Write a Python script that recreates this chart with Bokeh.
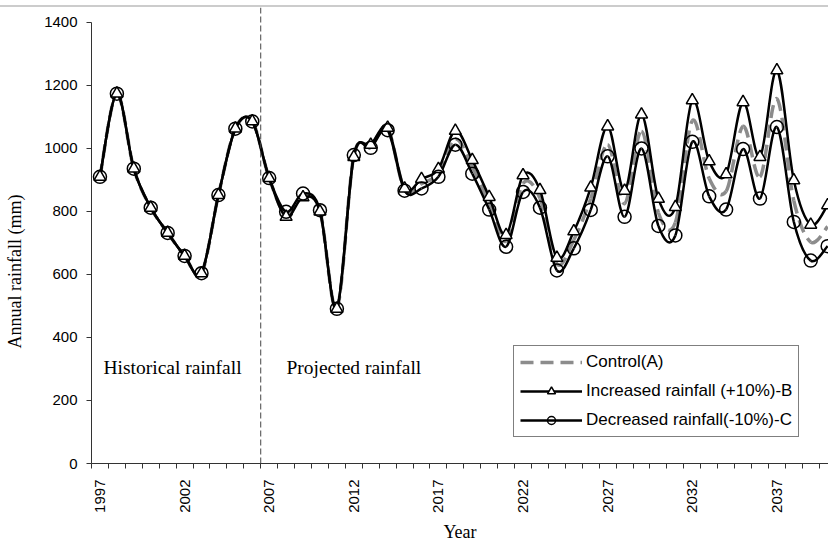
import math
from bokeh.plotting import figure
from bokeh.models import (Range1d, FixedTicker, Span, Label, Legend, LegendItem,
                          ColumnDataSource)
from bokeh.embed import file_html
from bokeh.resources import INLINE

# ---------------- data ----------------
years = list(range(1997, 2041))
control_a = [910, 1174, 936, 812, 732, 659, 604, 852, 1063, 1086,
             906, 791, 851, 802, 491, 976, 1007, 1062, 869, 888,
             922, 1030, 942, 826, 706, 889, 842, 634, 710, 841,
             1012, 825, 1055, 796, 765, 1088, 905, 864, 1070, 910,
             1158, 834, 703, 752]
increased_b = [910, 1174, 936, 812, 732, 659, 604, 852, 1063, 1086,
               906, 783, 845, 800, 491, 973, 1012, 1066, 873, 903,
               935, 1056, 963, 846, 725, 915, 868, 653, 737, 876,
               1070, 866, 1108, 840, 814, 1153, 959, 918, 1147, 973,
               1248, 899, 758, 820]
decreased_c = [910, 1174, 936, 812, 732, 659, 604, 852, 1063, 1086,
               906, 799, 857, 804, 491, 979, 1002, 1058, 866, 873,
               910, 1012, 920, 806, 688, 862, 812, 613, 683, 805,
               975, 783, 1000, 754, 724, 1021, 848, 806, 998, 841,
               1068, 767, 644, 690]
series_labels = ["Control(A)", "Increased rainfall (+10%)-B",
                 "Decreased rainfall(-10%)-C"]
x_tick_years = [1997, 2002, 2007, 2012, 2017, 2022, 2027, 2032, 2037]
y_ticks = [0, 200, 400, 600, 800, 1000, 1200, 1400]
split_year = 2006.5


def smooth_source(xs, ys):
    """Catmull-Rom style bezier segments through the data points."""
    n = len(xs)
    d = dict(x0=[], y0=[], x1=[], y1=[], cx0=[], cy0=[], cx1=[], cy1=[])
    for i in range(n - 1):
        xa, ya = (xs[i - 1], ys[i - 1]) if i > 0 else (xs[i], ys[i])
        xd, yd = (xs[i + 2], ys[i + 2]) if i + 2 < n else (xs[i + 1], ys[i + 1])
        d["x0"].append(xs[i]); d["y0"].append(ys[i])
        d["x1"].append(xs[i + 1]); d["y1"].append(ys[i + 1])
        d["cx0"].append(xs[i] + (xs[i + 1] - xa) / 6.0)
        d["cy0"].append(ys[i] + (ys[i + 1] - ya) / 6.0)
        d["cx1"].append(xs[i + 1] - (xd - xs[i]) / 6.0)
        d["cy1"].append(ys[i + 1] - (yd - ys[i]) / 6.0)
    return ColumnDataSource(d)


SANS = "Liberation Sans"
SERIF = "Liberation Serif"

p = figure(width=828, height=537, output_backend="svg", toolbar_location=None,
           x_range=Range1d(1996.5, 2040.05), y_range=Range1d(0, 1447.5),
           min_border_left=91, min_border_right=0, min_border_top=0,
           min_border_bottom=80)
p.styles = {"margin-top": "5px", "border-top": "2px solid #cccccc"}
p.outline_line_color = None
p.xgrid.visible = False
p.ygrid.visible = False
p.background_fill_color = "white"
p.border_fill_color = "white"

# x axis
xa = p.xaxis[0]
xa.ticker = FixedTicker(ticks=x_tick_years,
                        minor_ticks=[y - 0.5 for y in years])
xa.major_tick_out = 0
xa.major_tick_in = 0
xa.minor_tick_out = 5
xa.minor_tick_in = 0
xa.minor_tick_line_color = "#333333"
xa.axis_line_color = "#333333"
xa.major_label_orientation = math.pi / 2
xa.major_label_standoff = 11
xa.major_label_text_font = SANS
xa.major_label_text_font_size = "15px"
xa.major_label_text_color = "black"
xa.axis_label = "Year"
xa.axis_label_text_font = SERIF
xa.axis_label_text_font_size = "18px"
xa.axis_label_text_font_style = "normal"
xa.axis_label_text_color = "black"
xa.axis_label_text_line_height = 1.0
xa.axis_label_standoff = 6

# y axis (title padded with no-break spaces so it sits a little lower, as in the original)
ya = p.yaxis[0]
ya.ticker = FixedTicker(ticks=y_ticks, minor_ticks=[])
ya.bounds = (0, 1400)
ya.major_tick_out = 5
ya.major_tick_in = 0
ya.minor_tick_out = 0
ya.minor_tick_in = 0
ya.major_tick_line_color = "#333333"
ya.axis_line_color = "#333333"
ya.major_label_standoff = 9
ya.major_label_text_font = SANS
ya.major_label_text_font_size = "15px"
ya.major_label_text_color = "black"
ya.axis_label = "Annual rainfall (mm)" + "\u00a0" * 16
ya.axis_label_text_font = SERIF
ya.axis_label_text_font_size = "18px"
ya.axis_label_text_font_style = "normal"
ya.axis_label_text_color = "black"
ya.axis_label_standoff = 16

# split line
p.add_layout(Span(location=split_year, dimension="height", line_color="#444444",
                  line_width=1, line_dash="6 3"))

# series
rA = p.bezier("x0", "y0", "x1", "y1", "cx0", "cy0", "cx1", "cy1",
              source=smooth_source(years, control_a), line_color="#8c8c8c",
              line_width=3.5, line_dash="13 7")
rB = p.bezier("x0", "y0", "x1", "y1", "cx0", "cy0", "cx1", "cy1",
              source=smooth_source(years, increased_b), line_color="black",
              line_width=2.5)
rC = p.bezier("x0", "y0", "x1", "y1", "cx0", "cy0", "cx1", "cy1",
              source=smooth_source(years, decreased_c), line_color="black",
              line_width=2.5)
sB = p.scatter(years, increased_b, marker="triangle", size=12,
               fill_color="white", line_color="black", line_width=1.5)
sC = p.scatter(years, decreased_c, marker="circle", size=13,
               fill_color=None, line_color="black", line_width=1.5)

legend = Legend(items=[LegendItem(label=series_labels[0], renderers=[rA]),
                       LegendItem(label=series_labels[1], renderers=[rB, sB]),
                       LegendItem(label=series_labels[2], renderers=[rC, sC])],
                location=(422, 26))
legend.label_text_font = SANS
legend.label_text_font_size = "17px"
legend.label_text_color = "black"
legend.glyph_width = 62
legend.glyph_height = 20
legend.label_height = 20
legend.label_standoff = 4
legend.spacing = 9
legend.padding = 6
legend.margin = 0
legend.border_line_color = "black"
legend.border_line_width = 1
legend.background_fill_color = "white"
legend.background_fill_alpha = 1
p.add_layout(legend)

# texts
p.add_layout(Label(x=1997.21, y=306, text="Historical rainfall",
                   text_font=SERIF, text_font_size="19.5px", text_color="black",
                   text_align="left", text_baseline="alphabetic"))
p.add_layout(Label(x=2008.02, y=306, text="Projected rainfall",
                   text_font=SERIF, text_font_size="19.5px", text_color="black",
                   text_align="left", text_baseline="alphabetic"))

open("out.html", "w").write(file_html(p, INLINE))
